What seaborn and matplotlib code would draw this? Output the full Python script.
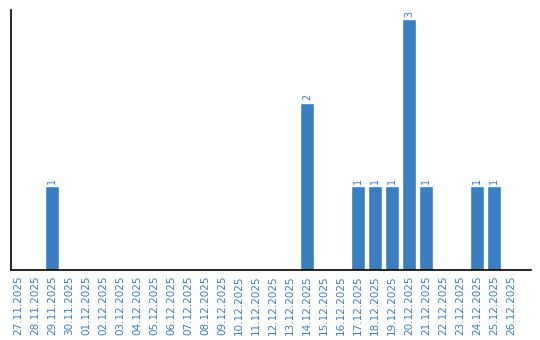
import matplotlib
matplotlib.use("Agg")
import matplotlib.pyplot as plt
import seaborn as sns
import pandas as pd

dates = ["27.11.2025", "28.11.2025", "29.11.2025", "30.11.2025", "01.12.2025", "02.12.2025",
         "03.12.2025", "04.12.2025", "05.12.2025", "06.12.2025", "07.12.2025", "08.12.2025",
         "09.12.2025", "10.12.2025", "11.12.2025", "12.12.2025", "13.12.2025", "14.12.2025",
         "15.12.2025", "16.12.2025", "17.12.2025", "18.12.2025", "19.12.2025", "20.12.2025",
         "21.12.2025", "22.12.2025", "23.12.2025", "24.12.2025", "25.12.2025", "26.12.2025"]
counts = [0, 0, 1, 0, 0, 0, 0, 0, 0, 0, 0, 0, 0, 0, 0, 0, 0, 2,
          0, 0, 1, 1, 1, 3, 1, 0, 0, 1, 1, 0]

df = pd.DataFrame({"date": dates, "count": counts})

sns.set_style("white")
fig = plt.figure(figsize=(5.4, 3.4), dpi=100)
ax = fig.add_axes([10.5 / 540, 70 / 340, 520 / 540, 260 / 340])
color = "#3a7ec2"
sns.barplot(data=df, x="date", y="count", color=color, saturation=1, width=0.82, ax=ax)

for i, v in enumerate(counts):
    if v > 0:
        ax.text(i, v + 0.03, str(v), rotation=90, ha="center", va="bottom",
                fontsize=7, color=color)

ax.set_ylim(0, 3.11)
ax.set_xlim(-0.44, 30.15)
ax.set_xlabel("")
ax.set_ylabel("")
ax.set_yticks([])
ax.tick_params(axis="x", length=0, pad=4, labelsize=7.5, labelcolor=color)
plt.setp(ax.get_xticklabels(), rotation=90)
for s in ["top", "right"]:
    ax.spines[s].set_visible(False)
for s in ["left", "bottom"]:
    ax.spines[s].set_color("black")
    ax.spines[s].set_linewidth(1.2)

fig.savefig("out.png", dpi=100)
